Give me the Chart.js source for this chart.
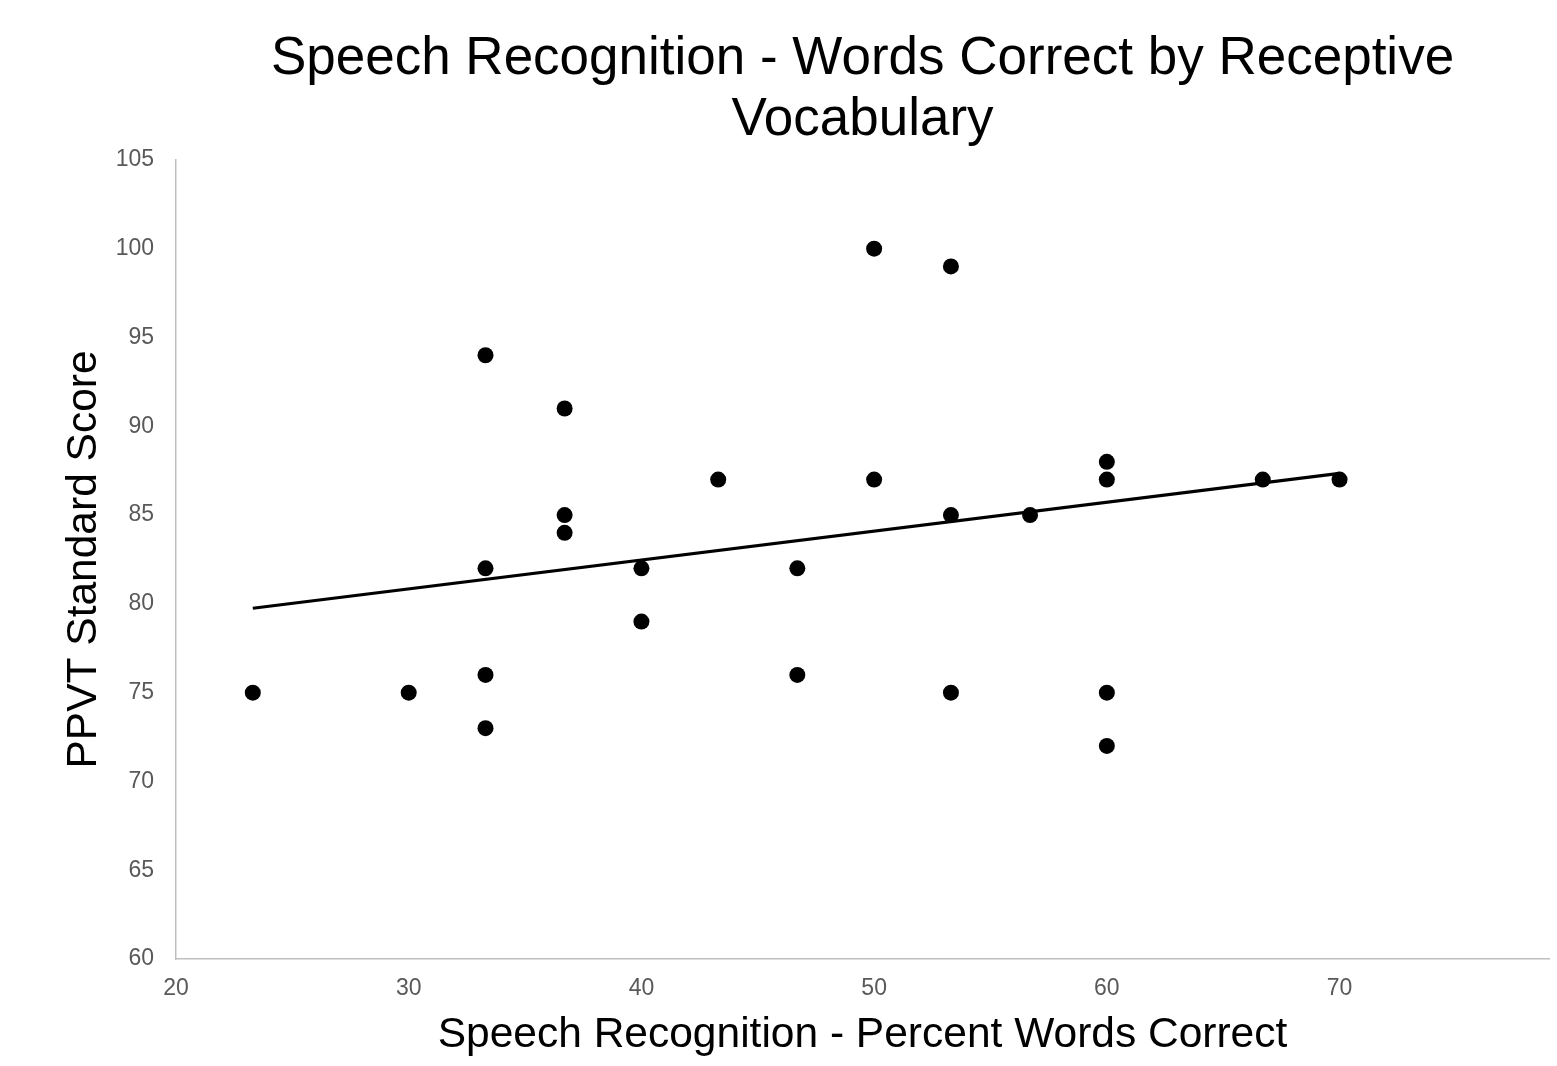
<!DOCTYPE html>
<html>
<head>
<meta charset="utf-8">
<script src="https://cdn.jsdelivr.net/npm/chart.js@4/dist/chart.umd.min.js"></script>
<style>
  html, body { margin: 0; padding: 0; background: #fff; }
  #wrap { width: 1557px; height: 1066px; }
</style>
</head>
<body>
<div id="wrap"><canvas id="chart" width="1557" height="1066"></canvas></div>
<script>
// percent words correct (x) vs PPVT standard score (y)
var wordsCorrect = [23.3, 30, 33.3, 33.3, 33.3, 33.3, 36.7, 36.7, 36.7, 40, 40, 43.3, 46.7, 46.7,
  50, 50, 53.3, 53.3, 53.3, 56.7, 60, 60, 60, 60, 66.7, 70];
var ppvtScore = [75, 75, 94, 82, 76, 73, 91, 85, 84, 82, 79, 87, 82, 76,
  100, 87, 99, 85, 75, 85, 88, 87, 75, 72, 87, 87];

// linear trendline ends
var trendX = [23.3, 70];
var trendY = [79.75, 87.35];

var xTicks = [20, 30, 40, 50, 60, 70];
var yTicks = [60, 65, 70, 75, 80, 85, 90, 95, 100, 105];

var titleLines = ['Speech Recognition - Words Correct by Receptive', 'Vocabulary'];
var xTitle = 'Speech Recognition - Percent Words Correct';
var yTitle = 'PPVT Standard Score';

var points = [];
for (var i = 0; i < wordsCorrect.length; i++) {
  points.push({x: wordsCorrect[i], y: ppvtScore[i]});
}
var trend = [];
for (var j = 0; j < trendX.length; j++) {
  trend.push({x: trendX[j], y: trendY[j]});
}

var fontFam = '"Liberation Sans", Arial, sans-serif';
var tickFont = {family: fontFam, size: 23};
var axisColor = '#bfbfbf';

new Chart(document.getElementById('chart'), {
  type: 'scatter',
  data: {
    datasets: [{
      label: 'PPVT',
      data: points,
      backgroundColor: '#000',
      borderColor: '#000',
      pointRadius: 8,
      pointHoverRadius: 8,
      borderWidth: 0
    }, {
      type: 'line',
      label: 'Linear',
      data: trend,
      borderColor: '#000',
      borderWidth: 3.2,
      pointRadius: 0,
      fill: false
    }]
  },
  options: {
    responsive: false,
    animation: false,
    layout: {padding: 0},
    plugins: {
      legend: {display: false},
      tooltip: {enabled: false},
      title: {
        display: true,
        text: titleLines,
        fullSize: false,
        color: '#000',
        font: {family: fontFam, size: 53, weight: 'normal', lineHeight: 1.15},
        padding: {top: 29, bottom: 9}
      }
    },
    scales: {
      x: {
        type: 'linear',
        min: 20,
        max: 79,
        afterBuildTicks: function (s) {
          s.ticks = xTicks.map(function (v) { return {value: v}; });
        },
        afterFit: function (s) { s.height = 107; },
        grid: {display: false, drawTicks: false},
        border: {display: true, color: axisColor, width: 1.5},
        ticks: {color: '#595959', font: tickFont, padding: 16, maxRotation: 0},
        title: {
          display: true,
          text: xTitle,
          color: '#000',
          font: {family: fontFam, size: 42.5},
          padding: {top: 0, bottom: 5}
        }
      },
      y: {
        type: 'linear',
        min: 60,
        max: 105,
        afterBuildTicks: function (s) {
          s.ticks = yTicks.map(function (v) { return {value: v}; });
        },
        afterFit: function (s) { s.width = 176; },
        grid: {display: false, drawTicks: false},
        border: {display: true, color: axisColor, width: 1.5},
        ticks: {color: '#595959', font: tickFont, padding: 22},
        title: {
          display: true,
          text: yTitle,
          color: '#000',
          font: {family: fontFam, size: 42.5},
          padding: {top: 59, bottom: 0}
        }
      }
    }
  }
});
</script>
</body>
</html>
